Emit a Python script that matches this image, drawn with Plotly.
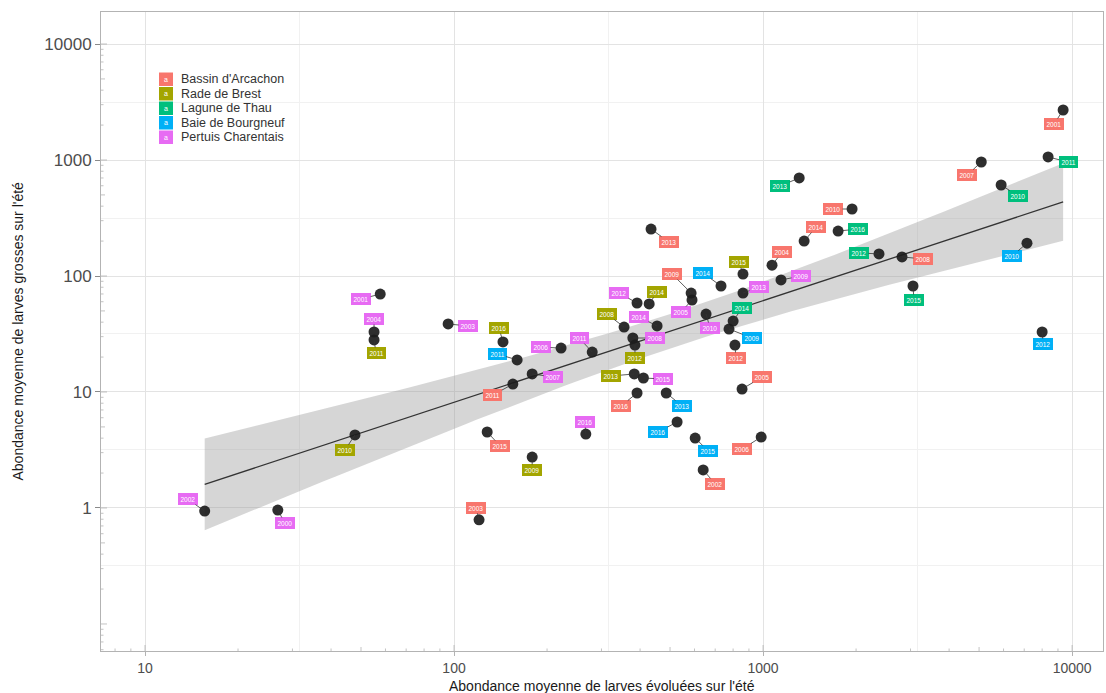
import numpy as np
import plotly.graph_objects as go

# ---------------- data ----------------
regions = ["Bassin d'Arcachon", "Rade de Brest", "Lagune de Thau", "Baie de Bourgneuf", "Pertuis Charentais"]
region_colors = ["#F8766D", "#A3A500", "#00BF7D", "#00B0F6", "#E76BF3"]

site = ["Pertuis Charentais", "Pertuis Charentais", "Rade de Brest", "Pertuis Charentais", "Pertuis Charentais",
        "Rade de Brest", "Pertuis Charentais", "Rade de Brest", "Baie de Bourgneuf", "Bassin d'Arcachon",
        "Bassin d'Arcachon", "Bassin d'Arcachon", "Pertuis Charentais", "Rade de Brest", "Pertuis Charentais",
        "Pertuis Charentais", "Pertuis Charentais", "Rade de Brest", "Pertuis Charentais", "Rade de Brest",
        "Pertuis Charentais", "Pertuis Charentais", "Rade de Brest", "Rade de Brest", "Pertuis Charentais",
        "Bassin d'Arcachon", "Baie de Bourgneuf", "Baie de Bourgneuf", "Baie de Bourgneuf", "Bassin d'Arcachon",
        "Bassin d'Arcachon", "Bassin d'Arcachon", "Pertuis Charentais", "Baie de Bourgneuf", "Pertuis Charentais",
        "Rade de Brest", "Pertuis Charentais", "Lagune de Thau", "Baie de Bourgneuf", "Bassin d'Arcachon",
        "Bassin d'Arcachon", "Bassin d'Arcachon", "Bassin d'Arcachon", "Pertuis Charentais", "Bassin d'Arcachon",
        "Lagune de Thau", "Bassin d'Arcachon", "Lagune de Thau", "Lagune de Thau", "Bassin d'Arcachon",
        "Lagune de Thau", "Bassin d'Arcachon", "Lagune de Thau", "Bassin d'Arcachon", "Lagune de Thau",
        "Baie de Bourgneuf", "Baie de Bourgneuf"]

annee = [2002, 2000, 2010, 2001, 2004,
         2011, 2003, 2016, 2011, 2003,
         2015, 2011, 2007, 2009, 2006,
         2011, 2016, 2008, 2012, 2014,
         2014, 2008, 2012, 2013, 2015,
         2016, 2013, 2016, 2015, 2002,
         2013, 2009, 2005, 2014, 2010,
         2015, 2013, 2014, 2009, 2012,
         2005, 2006, 2004, 2009, 2014,
         2013, 2010, 2016, 2012, 2008,
         2015, 2007, 2010, 2001, 2011,
         2010, 2012]

larves_evoluees = [15.6, 26.9, 47.8, 57.7, 55.1,
                   55.1, 95.7, 144, 160, 120.5,
                   128, 155, 179, 179, 222,
                   280, 267, 355, 391, 428,
                   454, 379, 385, 383, 410,
                   391, 486, 527, 603, 640,
                   434, 585, 589, 731, 654,
                   861, 861, 800, 776, 811,
                   855, 986, 1069, 1143, 1358,
                   1309, 1941, 1749, 2372, 2816,
                   3056, 5083, 5894, 9354, 8363,
                   7145, 8000]

larves_grosses = [0.94, 0.96, 4.26, 69.9, 32.9,
                  28.1, 38.6, 27.0, 18.9, 0.79,
                  4.52, 11.7, 14.3, 2.75, 23.9,
                  22.1, 4.34, 36.3, 58.5, 57.4,
                  37.1, 29.2, 25.4, 14.3, 13.2,
                  9.8, 9.8, 5.51, 4.01, 2.13,
                  254, 71.3, 62.1, 82.0, 47.0,
                  104, 71.3, 40.9, 34.9, 25.4,
                  10.6, 4.09, 124, 92.4, 200,
                  700, 378, 244, 155, 146,
                  82, 961, 609, 2699, 1062,
                  192, 32.9]

# label offsets (pixels, repel-like placement)
label_dx = [-17, 7, -10, -19, 0, 2, 20, -4, -20, -3,
            13, -20, 21, 0, -20, -13, -1, -17, -18, 8,
            -18, 22, 0, -23, 20, -16, 16, -19, 13, 12,
            18, -19, -11, -18, 4, -4, 16, 9, 23, 1,
            20, -19, 10, 20, 12, -19, -19, 20, -20, 21,
            1, -14, 17, -9, 20, -15, 1]
label_dy = [-12, 13, 15, 5, -13, 13, 2, -14, -6, -12,
            14, 11, 3, 13, -1, -14, -12, -13, -10, -12,
            -9, 0, 13, 2, 1, 13, 13, 10, 13, 14,
            13, -19, 12, -13, 14, -12, -6, -13, 9, 13,
            -12, 12, -13, -4, -14, 8, 0, -2, -1, 2,
            14, 13, 11, 14, 5, 13, 12]

x_title = "Abondance moyenne de larves évoluées sur l'été"
y_title = "Abondance moyenne de larves grosses sur l'été"
tick_values = [1, 10, 100, 1000, 10000]

# ---------------- geometry ----------------
W, H = 1106, 693
ML, MR, MT, MB = 101, 3, 12, 42
PW, PH = W - ML - MR, H - MT - MB
xr = [0.8576, 4.100]
yr = [-1.233, 4.276]
px_per_dec_x = PW / (xr[1] - xr[0])
px_per_dec_y = PH / (yr[1] - yr[0])

col_of = dict(zip(regions, region_colors))

fig = go.Figure()

# ---------------- linear model (log-log) ----------------
lx = np.log10(np.array(larves_evoluees, float))
ly = np.log10(np.array(larves_grosses, float))
n = len(lx)
slope, inter = np.polyfit(lx, ly, 1)
res = ly - (inter + slope * lx)
s = np.sqrt(np.sum(res ** 2) / (n - 2))
xm = lx.mean()
sxx = np.sum((lx - xm) ** 2)
g = np.linspace(lx.min(), lx.max(), 80)
fit = inter + slope * g
se = s * np.sqrt(1.0 / n + (g - xm) ** 2 / sxx)
t = 2.004
up, lo = fit + t * se, fit - t * se

fig.add_trace(go.Scatter(
    x=10 ** np.concatenate([g, g[::-1]]), y=10 ** np.concatenate([up, lo[::-1]]),
    fill="toself", fillcolor="rgba(153,153,153,0.4)", line=dict(width=0),
    mode="lines", hoverinfo="skip", showlegend=False))
fig.add_trace(go.Scatter(x=10 ** g, y=10 ** fit, mode="lines",
                         line=dict(color="#333333", width=1.3), hoverinfo="skip", showlegend=False))

# ---------------- points ----------------
fig.add_trace(go.Scatter(
    x=larves_evoluees, y=larves_grosses, mode="markers",
    marker=dict(color="#1C1C1C", size=11, opacity=0.92, line=dict(width=0)),
    showlegend=False, hoverinfo="x+y"))

# ---------------- log ticks (annotation_logticks style) ----------------
def tick_len(m):
    return 6 if m == 1 else (4 if m == 5 else 2.5)

bx, by = [], []
for k in range(0, 5):
    for m in range(1, 10):
        v = m * 10 ** k
        lv = np.log10(v)
        if xr[0] <= lv <= xr[1]:
            bx += [v, v, None]
            by += [10 ** yr[0], 10 ** (yr[0] + tick_len(m) / px_per_dec_y), None]
lxs, lys = [], []
for k in range(-2, 5):
    for m in range(1, 10):
        v = m * 10.0 ** k
        lv = np.log10(v)
        if yr[0] <= lv <= yr[1]:
            lys += [v, v, None]
            lxs += [10 ** xr[0], 10 ** (xr[0] + tick_len(m) / px_per_dec_x), None]
fig.add_trace(go.Scatter(x=bx, y=by, mode="lines", line=dict(color="#9A9A9A", width=0.6),
                         hoverinfo="skip", showlegend=False, cliponaxis=False))
fig.add_trace(go.Scatter(x=lxs, y=lys, mode="lines", line=dict(color="#9A9A9A", width=0.6),
                         hoverinfo="skip", showlegend=False, cliponaxis=False))

# ---------------- labels ----------------
annotations = []
for xv, yv, st, yr_, dx, dy in zip(larves_evoluees, larves_grosses, site, annee, label_dx, label_dy):
    c = col_of[st]
    annotations.append(dict(
        x=np.log10(xv), y=np.log10(yv), xref="x", yref="y",
        text=str(yr_), showarrow=True, arrowhead=0, arrowwidth=0.8, arrowcolor="#333333",
        ax=dx, ay=dy, standoff=0,
        font=dict(size=6.5, color="white", family="Liberation Sans, Arial, sans-serif"),
        bgcolor=c, bordercolor=c, borderwidth=1, borderpad=1.5))

# ---------------- manual legend ----------------
shapes = []
leg_x0, leg_x1 = 159, 173
leg_top, leg_step = 72, 14.5
for i, (r, c) in enumerate(zip(regions, region_colors)):
    y0 = leg_top + i * leg_step
    y1 = y0 + leg_step
    shapes.append(dict(type="rect", xref="paper", yref="paper",
                       x0=(leg_x0 - ML) / PW, x1=(leg_x1 - ML) / PW,
                       y0=(H - MB - y1 + 0.5) / PH, y1=(H - MB - y0 - 0.5) / PH,
                       fillcolor=c, line=dict(width=0), layer="above"))
    annotations.append(dict(x=((leg_x0 + leg_x1) / 2 - ML) / PW, y=(H - MB - (y0 + y1) / 2) / PH,
                            xref="paper", yref="paper", text="a", showarrow=False,
                            font=dict(size=7, color="white", family="Liberation Sans, Arial"),
                            xanchor="center", yanchor="middle"))
    annotations.append(dict(x=(179 - ML) / PW, y=(H - MB - (y0 + y1) / 2) / PH,
                            xref="paper", yref="paper", text=r, showarrow=False,
                            font=dict(size=12.5, color="#333333", family="Liberation Sans, Arial"),
                            xanchor="left", yanchor="middle"))

# ---------------- axis titles ----------------
annotations.append(dict(x=0.5, y=(H - MB - 686) / PH, xref="paper", yref="paper", text=x_title,
                        showarrow=False, xanchor="center", yanchor="middle",
                        font=dict(size=14, color="#1A1A1A", family="Liberation Sans, Arial")))
annotations.append(dict(x=(17 - ML) / PW, y=0.5, xref="paper", yref="paper", text=y_title,
                        showarrow=False, xanchor="center", yanchor="middle", textangle=-90,
                        font=dict(size=14, color="#1A1A1A", family="Liberation Sans, Arial")))

minor_x = [10 ** (k + 0.5) for k in range(0, 5)]
minor_y = [10 ** (k + 0.5) for k in range(-2, 5)]

fig.update_layout(
    width=W, height=H,
    margin=dict(l=ML, r=MR, t=MT, b=MB),
    plot_bgcolor="white", paper_bgcolor="white",
    showlegend=False,
    font=dict(family="Liberation Sans, Arial, sans-serif"),
    xaxis=dict(type="log", range=xr, tickvals=tick_values, ticktext=[str(v) for v in tick_values],
               ticks="outside", ticklen=4, tickcolor="#B3B3B3", tickwidth=1,
               tickfont=dict(size=14, color="#4D4D4D"),
               showgrid=True, gridcolor="#E3E3E3", gridwidth=1,
               minor=dict(tickvals=minor_x, showgrid=True, gridcolor="#F1F1F1", gridwidth=0.8, ticks=""),
               showline=True, linecolor="#B3B3B3", linewidth=1, mirror=True, zeroline=False),
    yaxis=dict(type="log", range=yr, tickvals=tick_values, ticktext=[str(v) for v in tick_values],
               ticks="outside", ticklen=5, tickcolor="#8A8A8A", tickwidth=1,
               tickfont=dict(size=17, color="#4D4D4D"),
               showgrid=True, gridcolor="#E3E3E3", gridwidth=1,
               minor=dict(tickvals=minor_y, showgrid=True, gridcolor="#F1F1F1", gridwidth=0.8, ticks=""),
               showline=True, linecolor="#B3B3B3", linewidth=1, mirror=True, zeroline=False),
    annotations=annotations,
    shapes=shapes,
)

fig.write_html("out.html", config={"displayModeBar": False},
               post_script="document.body.style.margin='0px';")
